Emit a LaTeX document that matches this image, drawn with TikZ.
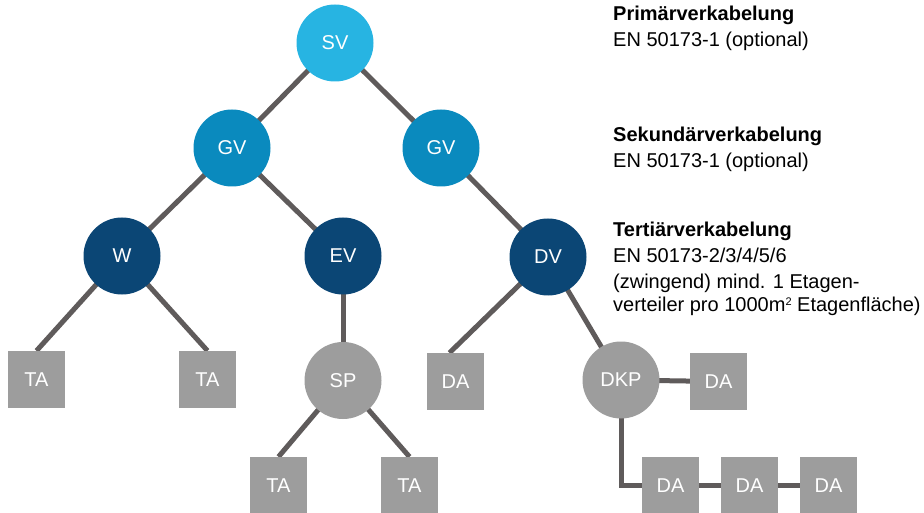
\documentclass[tikz,border=0pt]{standalone}
\usepackage{fontspec}
\setmainfont{Liberation Sans}
\usetikzlibrary{backgrounds}
\definecolor{cSV}{HTML}{27B4E2}
\definecolor{cGV}{HTML}{0A8ABE}
\definecolor{cDV}{HTML}{0B4675}
\definecolor{cGr}{HTML}{9D9D9D}
\definecolor{cLn}{HTML}{5F5B5B}
\newcommand{\supsm}[1]{\raisebox{0.62ex}{\fontsize{11}{11}\selectfont #1}}
\begin{document}
\begin{tikzpicture}[x=1pt,y=-1pt,
  circ/.style={circle,minimum size=77pt,inner sep=0pt,text=white,font=\fontsize{20}{20}\selectfont},
  sv/.style={circ,fill=cSV},
  gv/.style={circ,fill=cGV},
  dv/.style={circ,fill=cDV},
  sp/.style={circ,fill=cGr},
  boxn/.style={rectangle,minimum size=57pt,inner sep=0pt,fill=cGr,text=white,font=\fontsize{20}{20}\selectfont},
  link/.style={draw=cLn,line width=5pt},
  head/.style={anchor=base west,inner sep=0pt,font=\fontsize{20}{20}\selectfont\bfseries},
  body/.style={anchor=base west,inner sep=0pt,font=\fontsize{20}{20}\selectfont}]
\useasboundingbox (0,0) rectangle (924,513);
% nodes
\node[sv] (SV) at (335,43) {SV};
\node[gv] (GV1) at (232,148) {GV};
\node[gv] (GV2) at (441,148) {GV};
\node[dv] (W) at (122,256) {W};
\node[dv] (EV) at (343,256) {EV};
\node[dv] (DV) at (548,257) {DV};
\node[boxn] (TA1) at (36.5,379.5) {TA};
\node[boxn] (TA2) at (207.5,379.5) {TA};
\node[sp] (SP) at (343,380.5) {SP};
\node[boxn] (DA1) at (455.5,381.5) {DA};
\node[sp] (DKP) at (621,380) {DKP};
\node[boxn] (DA2) at (718.5,381.5) {DA};
\node[boxn] (TA3) at (278.5,485.5) {TA};
\node[boxn] (TA4) at (409.5,485.5) {TA};
\node[boxn] (DA3) at (670.5,485.5) {DA};
\node[boxn] (DA4) at (749.5,485.5) {DA};
\node[boxn] (DA5) at (828.5,485.5) {DA};
% connectors behind nodes
\begin{scope}[on background layer]
\draw[link] (SV.center) -- (GV1.center);
\draw[link] (SV.center) -- (GV2.center);
\draw[link] (GV1.center) -- (W.center);
\draw[link] (GV1.center) -- (EV.center);
\draw[link] (GV2.center) -- (DV.center);
\draw[link] (W.center) -- (TA1.north);
\draw[link] (W.center) -- (TA2.north);
\draw[link] (EV.center) -- (SP.center);
\draw[link] (SP.center) -- (TA3.north);
\draw[link] (SP.center) -- (TA4.north);
\draw[link] (DV.center) -- ([xshift=-6pt]DA1.north);
\draw[link] (DV.center) -- (DKP.center);
\draw[link] (DKP.center) -- (DA2.center);
\draw[link] (DKP.center) |- (DA3.center);
\draw[link] (DA3.center) -- (DA4.center);
\draw[link] (DA4.center) -- (DA5.center);
\end{scope}
% texts
\node[head] (h1) at (613,21) {Primärverkabelung};
\node[body] (b1) at (613,47) {EN 50173-1 (optional)};
\node[head] (h2) at (613,142) {Sekundärverkabelung};
\node[body] (b2) at (613,168) {EN 50173-1 (optional)};
\node[head] (h3) at (613,237) {Tertiärverkabelung};
\node[body] (b3) at (613,263) {EN 50173-2/3/4/5/6};
\node[body] (b4) at (613,288) {(zwingend) mind. 1 Etagen-};
\node[body] (b5) at (613,312) {verteiler pro 1000m\supsm{2} Etagenfläche)};
\end{tikzpicture}
\end{document}
